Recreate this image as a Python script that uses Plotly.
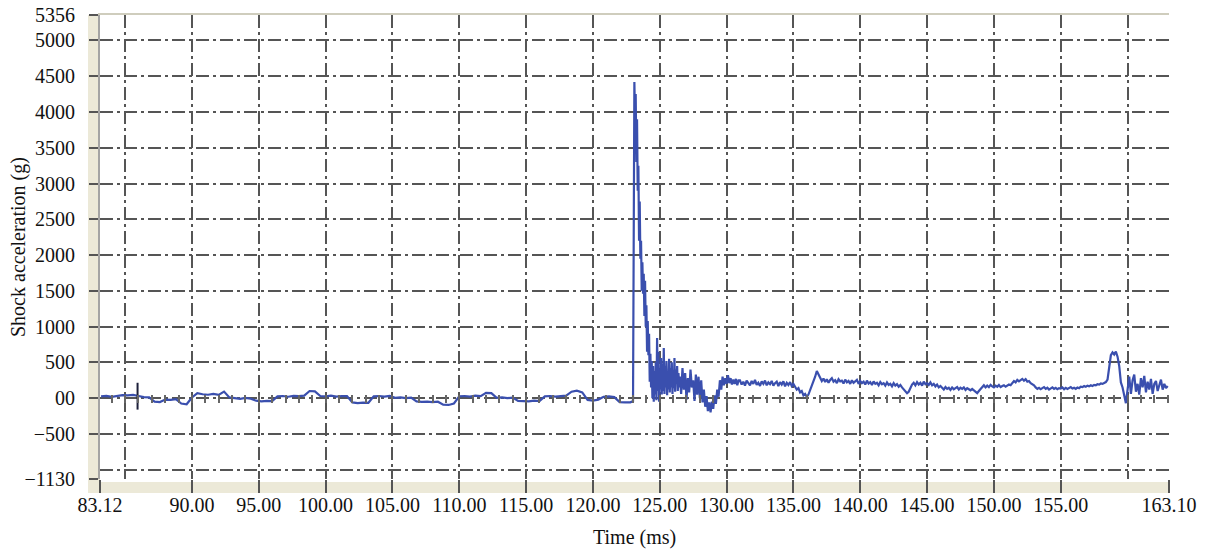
import numpy as np
import plotly.graph_objects as go

# ---------------- data ----------------
# Pre-shock baseline, sampled every 0.4 ms starting at 83.2 ms
pre_t0, pre_dt = 83.2, 0.4
pre_g = [25, 32, 18, 30, 42, 38, 45, 30, 14, 10,
         -48, -55, -20, -25, -15, -75, -85, 10, 70, 55,
         48, 60, 45, 92, 10, 0, -10, 5, -8, -35,
         -45, -38, -42, 25, 30, 20, 32, 28, 35, 100,
         95, 30, 25, 35, 22, 30, 28, -60, -70, -62,
         -65, 25, 30, 22, 32, 5, 10, 0, 8, -45,
         -52, -48, -55, -50, -90, -95, -75, 25, 30, 22,
         35, 28, 75, 70, 5, 10, 0, 8, -38, -42,
         -45, -35, -40, 25, 30, 22, 28, 35, 90, 105,
         80, -25, -35, -20, 20, 25, 15, -55, -60, -58]

# Shock pulse, sampled every 0.05 ms starting at 123.00 ms
shock_t0, shock_dt = 123.00, 0.05
shock_g = [-40, 2050, 4420, 3900, 4250, 3300, 3900, 2900, 3250, 2200,
           2750, 1950, 2200, 1500, 1900, 1460, 1740, 1150, 1640, 1000,
           1300, 650, 1080, 600, 900, 230, 620, 150, 520, 0,
           450, -50, 380, 50, 500, -30, 840, 100, 650, -50,
           400, 120, 560, 50, 480, 100, 700, 60, 450, 150,
           520, 40, 380, 120, 550, 80, 420, 150, 500, 60,
           380, 140, 560, 90, 400, 200, 450, 100, 350, 150]

# Ringing after the pulse, sampled every 0.1 ms starting at 126.5 ms
ring_t0, ring_dt = 126.5, 0.1
ring_g = [300, 60, 420, 120, 350, -20, 280, 80, 400, 150,
          250, -40, 330, 50, 300, 0, 250, -60, 120, -120,
          30, -180, -60, -200, -50, -150, 40, -80, 120, 20,
          250, 120, 300, 180, 280, 200, 320, 210, 280, 190,
          260, 200, 270, 180, 250]

# Residual level, sampled every 0.125 ms starting at 131.0 ms
tail_t0, tail_dt = 131.0, 0.125
tail_g = (
    # 131.0 - 135.0
    [250, 190, 230, 175, 245, 205, 180, 240, 200, 255, 185, 215, 170, 235, 200, 245,
     180, 220, 195, 240, 175, 210, 230, 170, 225, 190, 235, 165, 215, 185, 225, 170, 200]
    # 135.125 - 137.0
    + [160, 120, 140, 80, 100, 40, 60, 20, 50, 110, 170, 250, 300, 380, 330, 290]
    # 137.125 - 143.0
    + [240, 275, 225, 265, 215, 255, 280, 230, 250, 210, 265, 235,
       245, 205, 260, 220, 240, 200, 250, 215, 235, 255, 200, 240,
       210, 230, 190, 245, 205, 225, 185, 235, 200, 215, 180, 225,
       195, 210, 175, 220, 185, 200, 165, 210, 175, 195, 160, 185]
    # 143.125 - 144.0
    + [150, 120, 95, 70, 90, 150, 190, 215]
    # 144.125 - 146.0
    + [180, 225, 190, 215, 175, 230, 195, 210, 185, 220, 180, 200, 165, 190, 150, 170]
    # 146.125 - 149.0
    + [140, 120, 155, 130, 145, 115, 150, 125, 140, 155, 120, 145, 130, 150, 115, 140,
       125, 110, 130, 105, 85, 70, 100, 130]
    # 149.125 - 151.25
    + [160, 180, 150, 175, 155, 185, 165, 150, 175, 160, 185, 155, 170, 180, 160, 175, 190, 180]
    # 151.375 - 153.0
    + [210, 240, 220, 255, 235, 250, 270, 245, 265, 230, 240, 210, 195, 180]
    # 153.125 - 156.5
    + [150, 130, 145, 125, 140, 155, 130, 145, 120, 140, 150, 130, 145, 125,
       140, 135, 150, 125, 145, 130, 140, 155, 135, 145, 130, 150, 140, 160]
    # 156.625 - 158.375
    + [155, 170, 160, 175, 165, 180, 170, 185, 180, 195, 190, 205, 200, 215, 225]
    # 158.5 - 159.75
    + [260, 420, 600, 640, 610, 650, 580, 450, 220, 150, 60]
    # 159.875 - 163.0
    + [-70, 120, 300, 60, 250, 330, 90, 200, 50, 280, 150, 310, 80,
       230, 120, 270, 60, 200, 240, 100, 180, 260, 120, 200, 140, 170]
)

# dark cursor mark near the start of the record
cursor_t = [85.93, 85.93]
cursor_g = [215, -160]

# axis content
x_title = "Time (ms)"
y_title = "Shock acceleration (g)"
x_min, x_max = 83.12, 163.10
y_min, y_max = -1130, 5356
x_tick_vals = [83.12, 90, 95, 100, 105, 110, 115, 120, 125, 130, 135, 140, 145, 150, 155, 163.10]
x_tick_text = ["83.12", "90.00", "95.00", "100.00", "105.00", "110.00", "115.00", "120.00",
               "125.00", "130.00", "135.00", "140.00", "145.00", "150.00", "155.00", "163.10"]
x_grid_vals = [85, 90, 95, 100, 105, 110, 115, 120, 125, 130, 135, 140, 145, 150, 155, 160]
y_tick_vals = [-1130, -500, 0, 500, 1000, 1500, 2000, 2500, 3000, 3500, 4000, 4500, 5000, 5356]
y_tick_text = ["\u22121130", "\u2212500", "00", "500", "1000", "1500", "2000", "2500", "3000",
               "3500", "4000", "4500", "5000", "5356"]
y_grid_vals = [-1000, -500, 0, 500, 1000, 1500, 2000, 2500, 3000, 3500, 4000, 4500, 5000]

# ---------------- build series ----------------
def seg(t0, dt, vals):
    return [round(t0 + dt * i, 4) for i in range(len(vals))], list(vals)

t_all, g_all = [], []
for t0, dt, vals in [(pre_t0, pre_dt, pre_g), (shock_t0, shock_dt, shock_g),
                     (ring_t0, ring_dt, ring_g), (tail_t0, tail_dt, tail_g)]:
    tt, gg = seg(t0, dt, vals)
    t_all += tt
    g_all += gg

FONT = "Liberation Serif"
GRID = "#555555"
DASH = "13px,4px,3px,4px"
BEIGE = "#ECE9D8"

fig = go.Figure()
for xa in ["x", "x3", "x4"]:
    fig.add_trace(go.Scatter(x=[x_min, x_max], y=[y_min, y_max], mode="markers",
                             marker=dict(opacity=0), hoverinfo="skip", showlegend=False,
                             xaxis=xa, yaxis="y"))
fig.add_trace(go.Scatter(x=t_all, y=g_all, mode="lines",
                         line=dict(color="#3a4fae", width=2.2),
                         showlegend=False, xaxis="x2", yaxis="y2"))
fig.add_trace(go.Scatter(x=cursor_t, y=cursor_g, mode="lines",
                         line=dict(color="#1c1f3a", width=2),
                         showlegend=False, xaxis="x2", yaxis="y2"))

plot_w = 1069.0
plot_h = 464.0
zero_frac = (0 - y_min) / (y_max - y_min)

fig.update_layout(
    width=1208, height=550,
    margin=dict(l=100, r=39, t=15, b=71),
    paper_bgcolor="white", plot_bgcolor="white",
    font=dict(family=FONT, size=20, color="#111111"),
    showlegend=False,
    # gridlines + top border
    xaxis=dict(range=[x_min, x_max], tickmode="array", tickvals=x_grid_vals,
               showticklabels=False, ticks="", showgrid=True, gridcolor=GRID,
               gridwidth=2, griddash=DASH, zeroline=False, side="top", automargin=False,
               showline=True, linecolor="#cfcdbd", linewidth=2, mirror=False),
    yaxis=dict(range=[y_min, y_max], tickmode="array", tickvals=y_grid_vals,
               showticklabels=False, ticks="", showgrid=True, gridcolor=GRID, automargin=False,
               gridwidth=2, griddash=DASH, zeroline=False, showline=False),
    # x tick labels (short invisible ticks to place labels)
    xaxis2=dict(range=[x_min, x_max], overlaying="x", anchor="y2", side="bottom",
                tickmode="array", tickvals=x_tick_vals, ticktext=x_tick_text,
                ticks="outside", ticklen=8, tickwidth=2, tickcolor="rgba(0,0,0,0)",
                automargin=False, showgrid=False, zeroline=False, showline=False),
    # visible x tick marks
    xaxis4=dict(range=[x_min, x_max], overlaying="x", anchor="y", side="bottom",
                tickmode="array", tickvals=x_tick_vals, showticklabels=False,
                ticks="outside", ticklen=13, tickwidth=2, tickcolor=GRID,
                automargin=False, showgrid=False, zeroline=False, showline=False),
    yaxis2=dict(range=[y_min, y_max], overlaying="y", anchor="x2", side="left",
                tickmode="array", tickvals=y_tick_vals, ticktext=y_tick_text,
                ticks="outside", ticklen=9, tickwidth=2, tickcolor=GRID,
                ticklabelstandoff=10, automargin=False,
                showgrid=False, zeroline=False,
                showline=True, linecolor="#a4a4a4", linewidth=2),
    # small ticks along the zero line
    xaxis3=dict(range=[x_min, x_max], overlaying="x", anchor="free",
                position=zero_frac + 4 / plot_h, side="bottom", automargin=False,
                tickmode="linear", tick0=84, dtick=1,
                ticks="outside", ticklen=8, tickwidth=1.5, tickcolor="#666666",
                showticklabels=False, showgrid=False, zeroline=False, showline=False),
    shapes=[
        dict(type="rect", xref="paper", yref="paper", layer="below",
             x0=-12 / plot_w, x1=0, y0=-14 / plot_h, y1=1,
             fillcolor=BEIGE, line=dict(width=0)),
        dict(type="rect", xref="paper", yref="paper", layer="below",
             x0=-12 / plot_w, x1=1, y0=-14 / plot_h, y1=-3 / plot_h,
             fillcolor=BEIGE, line=dict(width=0)),
    ],
    annotations=[
        dict(text=x_title, xref="paper", yref="paper", x=0.5, y=-58 / plot_h,
             xanchor="center", yanchor="middle", showarrow=False, font=dict(size=20)),
        dict(text=y_title, xref="paper", yref="paper", x=-82 / plot_w, y=0.5,
             xanchor="center", yanchor="middle", textangle=-90, showarrow=False,
             font=dict(size=20)),
    ],
)

fig.write_html("out.html")
